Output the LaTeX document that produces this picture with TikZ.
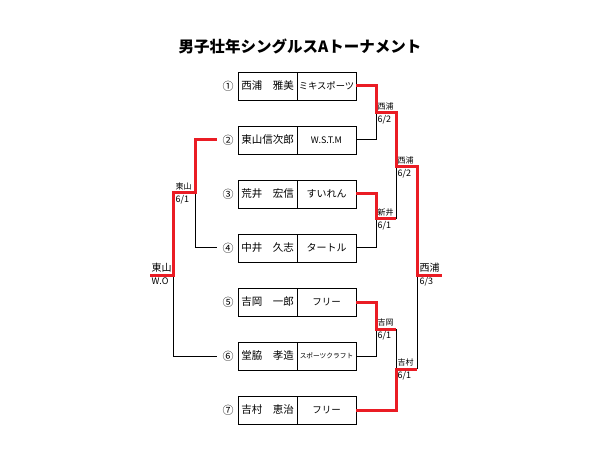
\documentclass[tikz,border=0pt]{standalone}
\usepackage{fontspec}
\setmainfont{Noto Sans CJK JP}
\begin{document}
\begin{tikzpicture}[x=1pt,y=-1pt,
  fs/.style={font=\fontsize{#1}{#1}\selectfont},
  namebox/.style={draw=black,line width=0.9pt,minimum width=59pt,minimum height=28pt,inner sep=0pt,fs=10.5},
  clubbox/.style={draw=black,line width=0.9pt,minimum width=59pt,minimum height=28pt,inner sep=0pt},
  num/.style={inner sep=0pt,minimum width=22pt,fs=11},
  bline/.style={draw=black,line width=1pt},
  rline/.style={draw=wred,line width=3pt},
  lbl/.style={inner sep=0.5pt,fs=#1},
  lbl/.default=8]
\definecolor{wred}{RGB}{234,28,36}
\useasboundingbox (0,0) rectangle (595,468);
\node[font=\fontsize{15.5}{15.5}\selectfont\bfseries] (title) at (300,46) {男子壮年シングルスAトーナメント};
% players
\foreach \i/\y/\nm/\cl/\cs in {1/86/西浦　雅美/ミキスポーツ/9.3, 2/140/東山信次郎/W.S.T.M/9, 3/194/荒井　宏信/すいれん/10, 4/248/中井　久志/タートル/10, 5/302/吉岡　一郎/フリー/9.5, 6/356/堂脇　孝造/スポーツクラフト/6.7, 7/410/吉村　恵治/フリー/9.5}{
  \node[namebox] (n\i) at (267.5,\y) {\nm};
  \node[clubbox,fs=\cs] (c\i) at (326.5,\y) {\cl};
}
\node[num] (k1) at (228,86) {①};
\node[num] (k2) at (228,140) {②};
\node[num] (k3) at (228,194) {③};
\node[num] (k4) at (228,248) {④};
\node[num] (k5) at (228,302) {⑤};
\node[num] (k6) at (228,356) {⑥};
\node[num] (k7) at (228,410) {⑦};
% joints
\coordinate (j12) at (376,113);
\coordinate (w12) at (396,113);
\coordinate (j34) at (376,219);
\coordinate (w34) at (396,219);
\coordinate (j14) at (396,167);
\coordinate (w14) at (417,167);
\coordinate (j56) at (376,329);
\coordinate (w56) at (396,329);
\coordinate (j57) at (396,369);
\coordinate (w57) at (417,369);
\coordinate (jf) at (417,275);
\coordinate (wf) at (442,275);
\coordinate (jl) at (195,193);
\coordinate (wl) at (173,193);
\coordinate (jlf) at (173,275);
\coordinate (wlf) at (150,275);
% black lines
\draw[bline] (c2.east) -| (j12);
\draw[bline] (c4.east) -| (j34);
\draw[bline] (w34) -- (j14);
\draw[bline] (c6.east) -| (j56);
\draw[bline] (w56) -- (j57);
\draw[bline] (w57) -- (jf);
\draw[bline] (k4.west) -| (jl);
\draw[bline] (k6.west) -| (jlf);
% red lines
\draw[rline] (c1.east) -| (j12) -- (w12) -- (j14) -- (w14) -- (jf) -- (wf);
\draw[rline] (c3.east) -| (j34) -- (w34);
\draw[rline] (c5.east) -| (j56) -- (w56);
\draw[rline] (c7.east) -| (j57) -- (w57);
\draw[rline] (k2.west) -| (jl) -- (wl) -- (jlf) -- (wlf);
% labels
\node[lbl,anchor=south west] (a1) at (377,111) {西浦};
\node[lbl=9,anchor=north west] (b1) at (377,115) {6/2};
\node[lbl,anchor=south west] (a2) at (377,217) {新井};
\node[lbl=9,anchor=north west] (b2) at (377,221) {6/1};
\node[lbl,anchor=south west] (a3) at (397,165) {西浦};
\node[lbl=9,anchor=north west] (b3) at (397,169) {6/2};
\node[lbl,anchor=south west] (a4) at (377,327) {吉岡};
\node[lbl=9,anchor=north west] (b4) at (377,331) {6/1};
\node[lbl,anchor=south west] (a5) at (397,367) {吉村};
\node[lbl=9,anchor=north west] (b5) at (397,371) {6/1};
\node[lbl=10,anchor=south west] (a6) at (419,273) {西浦};
\node[lbl=9,anchor=north west] (b6) at (419,277) {6/3};
\node[lbl,anchor=south west] (a7) at (175,191) {東山};
\node[lbl=9,anchor=north west] (b7) at (175,195) {6/1};
\node[lbl=10,anchor=south west] (a8) at (151,273) {東山};
\node[lbl=9,anchor=north west] (b8) at (151,277) {W.O};
\end{tikzpicture}
\end{document}
